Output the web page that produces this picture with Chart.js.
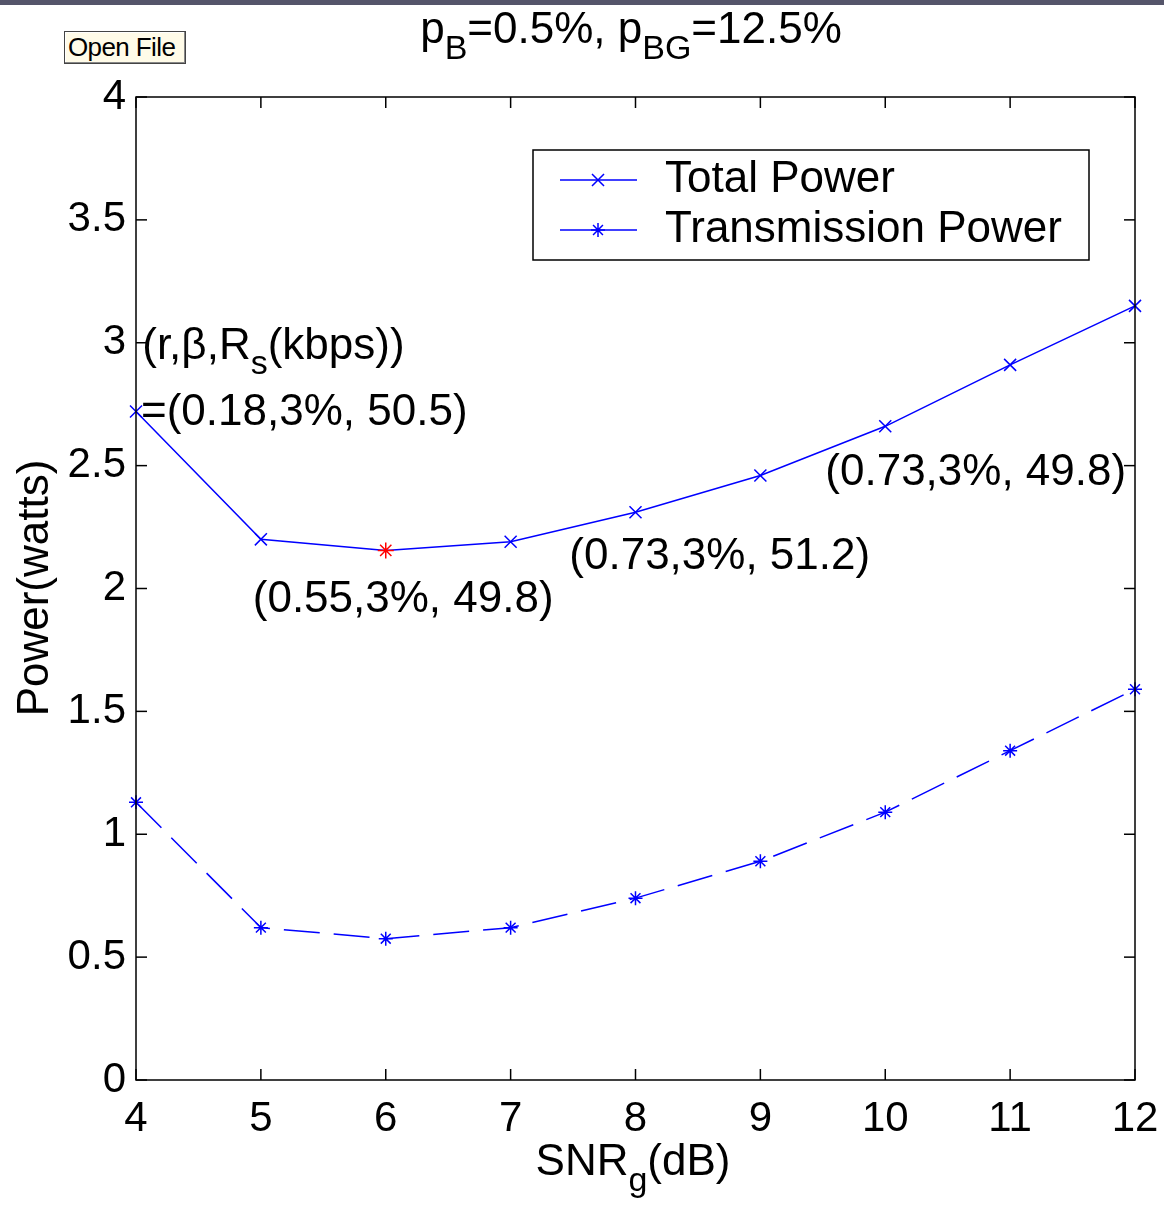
<!DOCTYPE html>
<html lang="en">
<head>
<meta charset="UTF-8">
<title>Power vs SNR</title>
<style>
  body { margin: 0; background: #fff; }
  .wrap { position: relative; width: 1164px; height: 1205px; overflow: hidden; }
  .topbar { position: absolute; left: 0; top: 0; width: 1164px; height: 5px; background: #55556a; }
  .open-btn {
    position: absolute; left: 64px; top: 31px; width: 122px; height: 33px;
    background: #fffbe8; border: 1px solid #444; box-shadow: inset -1px -1px 0 #888, inset 1px 1px 0 #fff;
    font: 26px 'Liberation Sans', Arial, sans-serif; color: #000; padding: 0 0 0 3px; text-align: left;
    box-sizing: border-box; letter-spacing: -0.6px; white-space: nowrap; overflow: hidden;
  }
  canvas { position: absolute; left: 0; top: 0; }
</style>
</head>
<body>
<div class="wrap">
  <canvas id="chart" width="1164" height="1205"></canvas>
  <div class="topbar"></div>
  <button class="open-btn">Open File</button>
</div>

<script src="https://cdn.jsdelivr.net/npm/chart.js"></script>
<script>
// SNR_g (dB)
const snr = [4, 5, 6, 7, 8, 9, 10, 11, 12];
const totalPower = [2.72, 2.20, 2.155, 2.19, 2.31, 2.46, 2.66, 2.91, 3.15];
const transPower = [1.13, 0.62, 0.575, 0.62, 0.74, 0.89, 1.09, 1.34, 1.59];
const minIndex = 2; // red star on total power

const xTickLabels = ['4', '5', '6', '7', '8', '9', '10', '11', '12'];
const yTickLabels = ['0', '0.5', '1', '1.5', '2', '2.5', '3', '3.5', '4'];

// annotation texts, anchored in data units [x, y]
const notes = [
  { parts: [['(r,β,R'], ['s', true], ['(kbps))']], at: [4.05, 2.985] },
  { parts: [['=(0.18,3%, 50.5)']], at: [4.04, 2.715] },
  { parts: [['(0.55,3%, 49.8)']], at: [4.935, 1.955] },
  { parts: [['(0.73,3%, 51.2)']], at: [7.47, 2.13] },
  { parts: [['(0.73,3%, 49.8)']], at: [9.52, 2.47] }
];

const FONT = "'Liberation Sans', Arial, sans-serif";
const BLUE = '#0000ff';
const TXT = 44;

function richText(ctx, parts, x, y, size, align) {
  const subSize = Math.round(size * 0.78);
  let total = 0;
  const widths = parts.map(p => {
    ctx.font = (p[1] ? subSize : size) + 'px ' + FONT;
    const w = ctx.measureText(p[0]).width;
    total += w;
    return w;
  });
  let cx = align === 'center' ? x - total / 2 : x;
  ctx.textBaseline = 'middle';
  ctx.textAlign = 'left';
  parts.forEach((p, i) => {
    ctx.font = (p[1] ? subSize : size) + 'px ' + FONT;
    ctx.fillText(p[0], cx, p[1] ? y + size * 0.42 : y);
    cx += widths[i];
  });
}

function seg(ctx, x1, y1, x2, y2) {
  ctx.beginPath(); ctx.moveTo(x1, y1); ctx.lineTo(x2, y2); ctx.stroke();
}

const decor = {
  id: 'decor',
  afterDraw(chart) {
    const { ctx, chartArea: a, scales: { x, y } } = chart;
    ctx.save();
    ctx.strokeStyle = '#000';
    ctx.lineWidth = 1.5;
    ctx.strokeRect(a.left, a.top, a.right - a.left, a.bottom - a.top);

    // inward ticks on all four sides
    const tl = 11;
    xTickLabels.forEach(t => {
      const px = x.getPixelForValue(Number(t));
      seg(ctx, px, a.bottom, px, a.bottom - tl);
      seg(ctx, px, a.top, px, a.top + tl);
    });
    yTickLabels.forEach(t => {
      const py = y.getPixelForValue(Number(t));
      seg(ctx, a.left, py, a.left + tl, py);
      seg(ctx, a.right, py, a.right - tl, py);
    });

    ctx.fillStyle = '#000';
    // title
    richText(ctx, [['p'], ['B', true], ['=0.5%, p'], ['BG', true], ['=12.5%']], 631, 31, 44, 'center');
    // x axis title
    richText(ctx, [['SNR'], ['g', true], ['(dB)']], 633, 1163, TXT, 'center');
    // y axis title
    ctx.save();
    ctx.translate(36, 588);
    ctx.rotate(-Math.PI / 2);
    richText(ctx, [['Power(watts)']], 0, 0, TXT, 'center');
    ctx.restore();

    // annotations
    notes.forEach(n => {
      richText(ctx, n.parts, x.getPixelForValue(n.at[0]), y.getPixelForValue(n.at[1]), TXT, 'left');
    });

    // legend
    ctx.fillStyle = '#fff';
    ctx.fillRect(533, 150, 556, 110);
    ctx.strokeStyle = '#000';
    ctx.lineWidth = 1.5;
    ctx.strokeRect(533, 150, 556, 110);
    const rows = [
      { label: 'Total Power', y: 180, style: 'crossRot', r: 8.5 },
      { label: 'Transmission Power', y: 230, style: 'star', r: 7 }
    ];
    rows.forEach(r => {
      ctx.strokeStyle = BLUE;
      ctx.lineWidth = 1.5;
      seg(ctx, 560, r.y, 637, r.y);
      Chart.helpers.drawPoint(ctx, { pointStyle: r.style, radius: r.r, borderWidth: 1.5 }, 598, r.y);
      ctx.fillStyle = '#000';
      richText(ctx, [[r.label]], 665, r.y, TXT, 'left');
    });
    ctx.restore();
  }
};

const pts = vals => snr.map((s, i) => ({ x: s, y: vals[i] }));

new Chart(document.getElementById('chart'), {
  type: 'line',
  data: {
    datasets: [
      {
        label: 'Total Power',
        data: pts(totalPower),
        borderColor: BLUE,
        borderWidth: 1.5,
        pointStyle: snr.map((s, i) => i === minIndex ? 'star' : 'crossRot'),
        pointRadius: snr.map((s, i) => i === minIndex ? 8 : 8.5),
        pointBorderColor: snr.map((s, i) => i === minIndex ? '#ff0000' : BLUE),
        pointBorderWidth: 1.5,
        fill: false,
        tension: 0,
        clip: false
      },
      {
        label: 'Transmission Power',
        data: pts(transPower),
        borderColor: BLUE,
        borderWidth: 1.5,
        borderDash: [36, 14],
        pointStyle: 'star',
        pointRadius: 7,
        pointBorderColor: BLUE,
        pointBorderWidth: 1.5,
        fill: false,
        tension: 0,
        clip: false
      }
    ]
  },
  options: {
    responsive: false,
    animation: false,
    events: [],
    layout: { padding: { top: 97, right: 29, left: 0, bottom: 0 } },
    plugins: { legend: { display: false }, tooltip: { enabled: false } },
    scales: {
      x: {
        type: 'linear',
        min: 4, max: 12,
        afterFit: s => { s.height = 125; s.paddingLeft = 0; s.paddingRight = 0; },
        grid: { drawOnChartArea: false, drawTicks: false },
        border: { display: false },
        ticks: {
          stepSize: 1,
          padding: 14,
          color: '#000',
          font: { family: FONT, size: 42 },
          callback: v => xTickLabels[snr.indexOf(v)] ?? ''
        }
      },
      y: {
        min: 0, max: 4,
        afterFit: s => { s.width = 136; s.paddingTop = 0; s.paddingBottom = 0; },
        grid: { drawOnChartArea: false, drawTicks: false },
        border: { display: false },
        ticks: {
          stepSize: 0.5,
          padding: 10,
          color: '#000',
          font: { family: FONT, size: 42 },
          callback: v => yTickLabels[Math.round(v * 2)] ?? ''
        }
      }
    }
  },
  plugins: [decor]
});
</script>
</body>
</html>
